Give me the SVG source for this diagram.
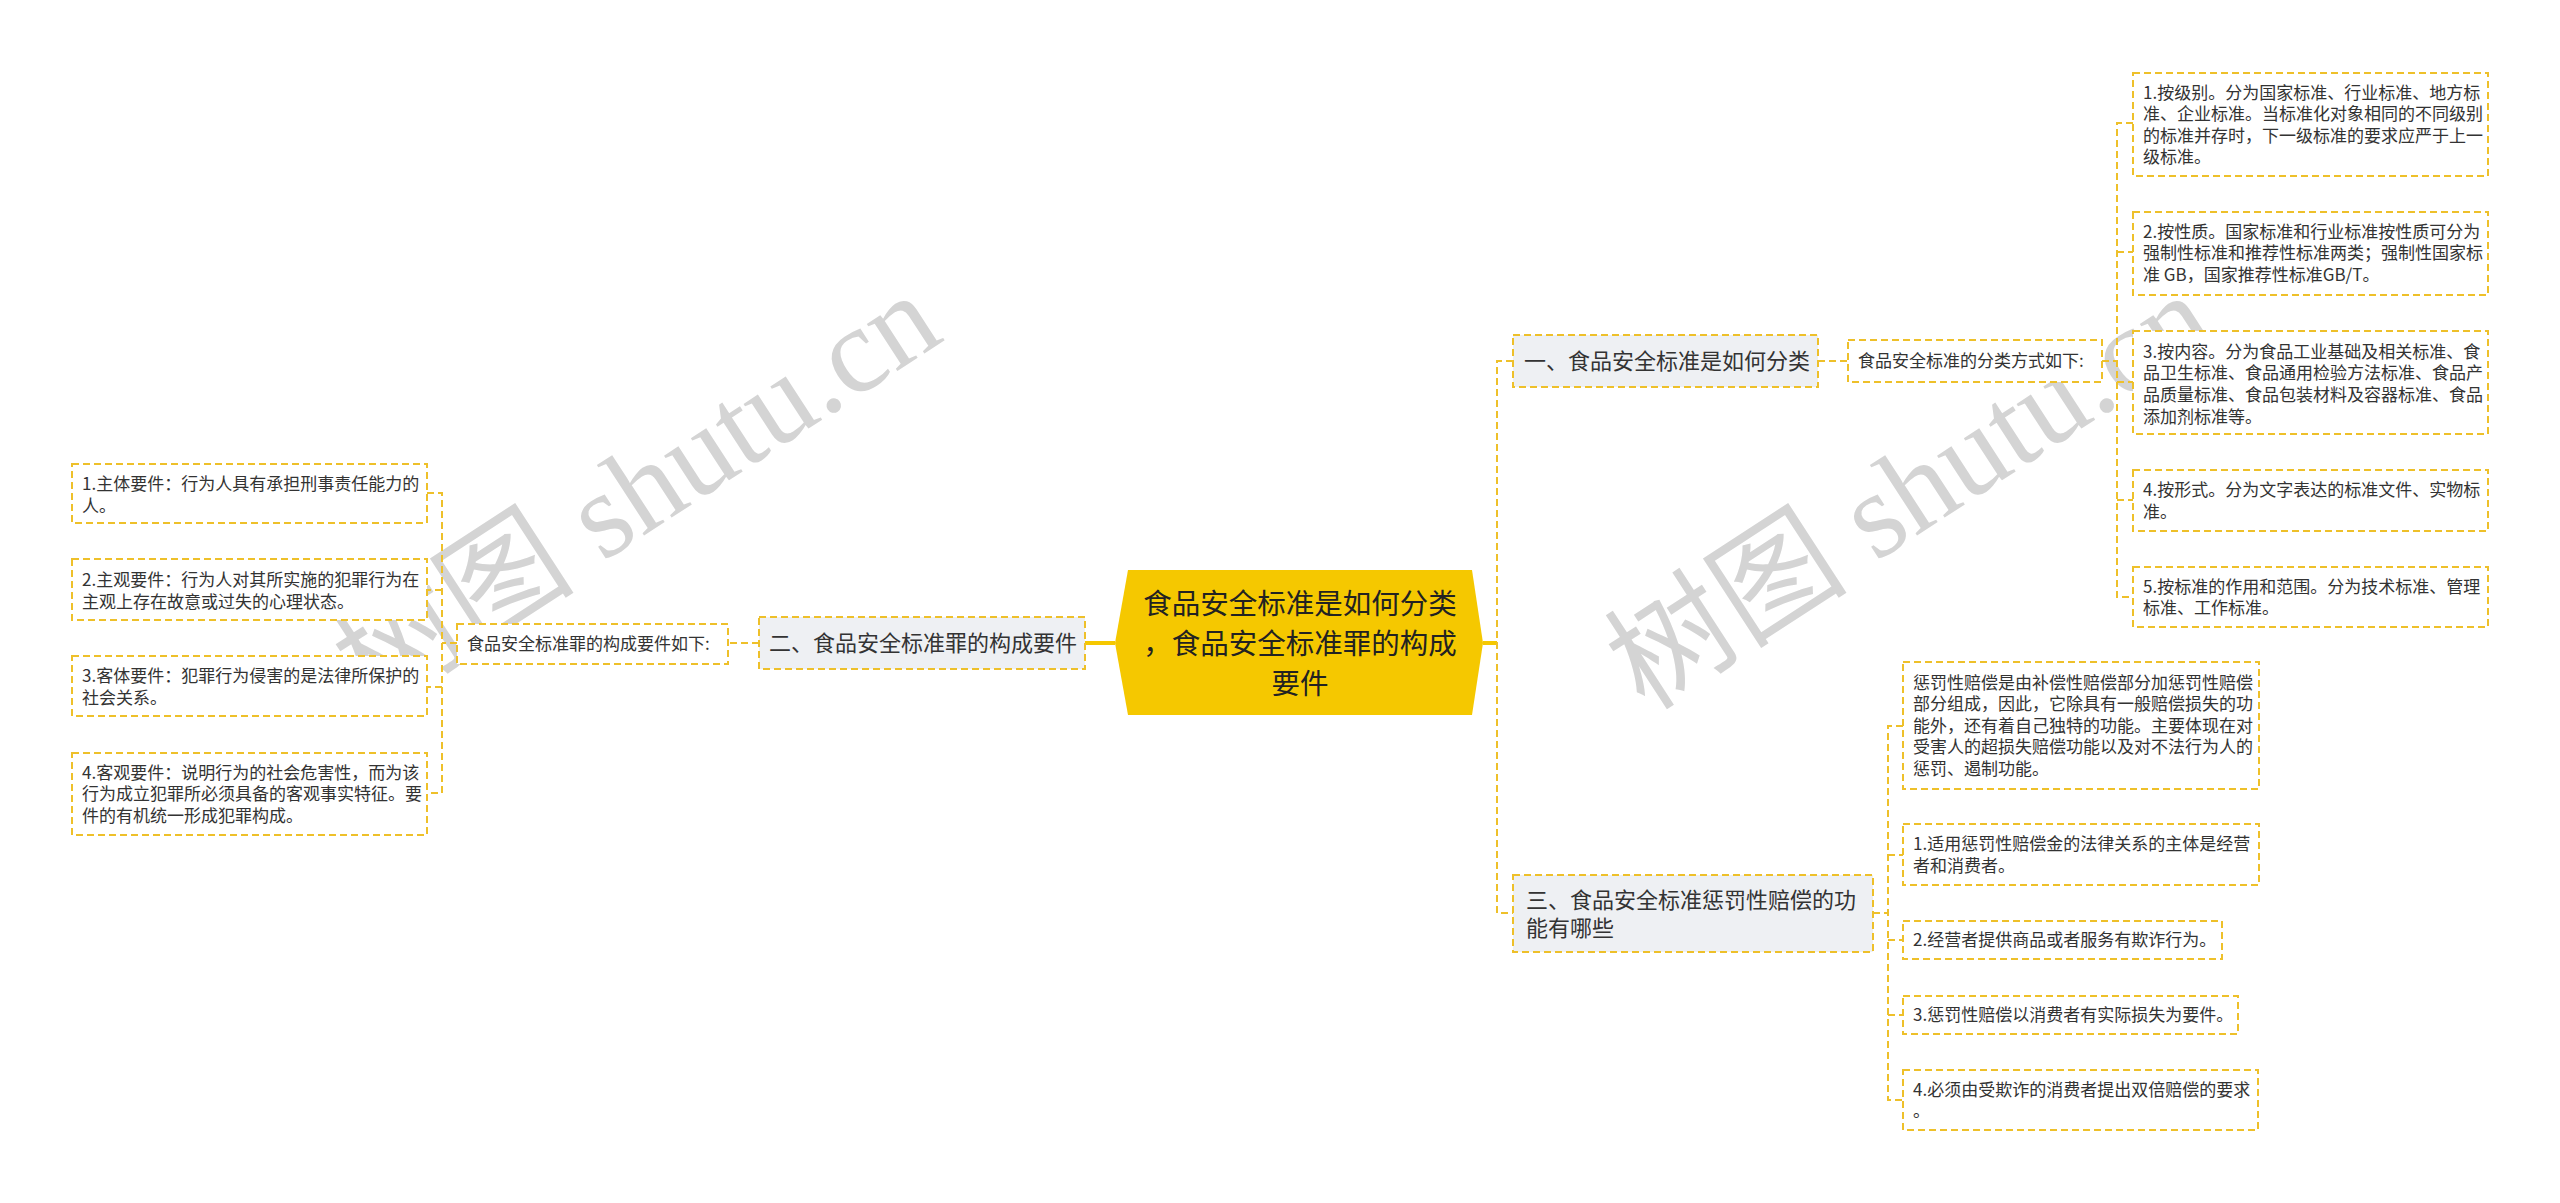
<svg xmlns="http://www.w3.org/2000/svg" width="2560" height="1203" viewBox="0 0 2560 1203">
<style>
.bg{fill:#ffffff}
.wm{font-family:"Liberation Serif","Noto Sans CJK SC",serif;font-size:122px;fill:#d4d4d4}
.box{fill:#ffffff;stroke:#eec02a;stroke-width:2;stroke-dasharray:7 4}
.main{fill:#eef0f3;stroke:#eec02a;stroke-width:2;stroke-dasharray:7 4}
.conn{fill:none;stroke:#eec02a;stroke-width:2;stroke-dasharray:7 4}
.solid{fill:none;stroke:#f5c800;stroke-width:4}
.t17{font-family:"Noto Sans CJK SC",sans-serif;font-size:17px;fill:#333333}
.t22{font-family:"Noto Sans CJK SC",sans-serif;font-size:22px;fill:#333333}
.t29{font-family:"Noto Sans CJK SC",sans-serif;font-size:28.5px;fill:#222222}
</style>
<rect class="bg" x="0" y="0" width="2560" height="1203"/>
<g id="watermarks">
<text class="wm" x="372" y="712" transform="rotate(-33 372 712)">树图 shutu.cn</text>
<text class="wm" x="1645" y="712" transform="rotate(-33 1645 712)">树图 shutu.cn</text>
</g>
<g id="connectors">
<line class="solid" x1="1483" y1="643" x2="1497" y2="643"/>
<line class="solid" x1="1115" y1="643" x2="1085" y2="643"/>
<path class="conn" d="M1513 361 H1497 V913 H1513"/>
<line class="conn" x1="1818" y1="361" x2="1848" y2="361"/>
<line class="conn" x1="2102" y1="361" x2="2117" y2="361"/>
<path class="conn" d="M2133 123 H2117 V597 H2133"/>
<line class="conn" x1="2117" y1="252" x2="2133" y2="252"/>
<line class="conn" x1="2117" y1="382" x2="2133" y2="382"/>
<line class="conn" x1="2117" y1="500" x2="2133" y2="500"/>
<line class="conn" x1="1873" y1="913" x2="1888" y2="913"/>
<path class="conn" d="M1903 726 H1888 V1100 H1903"/>
<line class="conn" x1="1888" y1="855" x2="1903" y2="855"/>
<line class="conn" x1="1888" y1="940" x2="1903" y2="940"/>
<line class="conn" x1="1888" y1="1015" x2="1903" y2="1015"/>
<line class="conn" x1="759" y1="643" x2="728" y2="643"/>
<line class="conn" x1="457" y1="643" x2="442" y2="643"/>
<path class="conn" d="M427 493 H442 V793 H427"/>
<line class="conn" x1="442" y1="590" x2="427" y2="590"/>
<line class="conn" x1="442" y1="687" x2="427" y2="687"/>
</g>
<g id="root">
<polygon points="1128,570 1472,570 1483,643 1472,715 1128,715 1115,643" fill="#f5c800"/>
<text class="t29" x="1300" y="614" text-anchor="middle">食品安全标准是如何分类</text>
<text class="t29" x="1300" y="654" text-anchor="middle">，食品安全标准罪的构成</text>
<text class="t29" x="1300" y="694" text-anchor="middle">要件</text>
</g>
<g id="b1">
<rect class="main" x="1513" y="335" width="305" height="52"/>
<text class="t22" x="1524" y="369">一、食品安全标准是如何分类</text>
</g>
<g id="b1s">
<rect class="box" x="1848" y="340" width="254" height="42"/>
<text class="t17" x="1858" y="367">食品安全标准的分类方式如下:</text>
</g>
<g id="r1">
<rect class="box" x="2133" y="73" width="355" height="103"/>
<text class="t17" x="2143" y="99">1.按级别。分为国家标准、行业标准、地方标</text>
<text class="t17" x="2143" y="120">准、企业标准。当标准化对象相同的不同级别</text>
<text class="t17" x="2143" y="142">的标准并存时，下一级标准的要求应严于上一</text>
<text class="t17" x="2143" y="163">级标准。</text>
</g>
<g id="r2">
<rect class="box" x="2133" y="212" width="355" height="83"/>
<text class="t17" x="2143" y="238">2.按性质。国家标准和行业标准按性质可分为</text>
<text class="t17" x="2143" y="259">强制性标准和推荐性标准两类；强制性国家标</text>
<text class="t17" x="2143" y="281">准 GB，国家推荐性标准GB/T。</text>
</g>
<g id="r3">
<rect class="box" x="2133" y="331" width="355" height="103"/>
<text class="t17" x="2143" y="358">3.按内容。分为食品工业基础及相关标准、食</text>
<text class="t17" x="2143" y="379">品卫生标准、食品通用检验方法标准、食品产</text>
<text class="t17" x="2143" y="401">品质量标准、食品包装材料及容器标准、食品</text>
<text class="t17" x="2143" y="423">添加剂标准等。</text>
</g>
<g id="r4">
<rect class="box" x="2133" y="470" width="355" height="61"/>
<text class="t17" x="2143" y="496">4.按形式。分为文字表达的标准文件、实物标</text>
<text class="t17" x="2143" y="518">准。</text>
</g>
<g id="r5">
<rect class="box" x="2133" y="567" width="355" height="60"/>
<text class="t17" x="2143" y="593">5.按标准的作用和范围。分为技术标准、管理</text>
<text class="t17" x="2143" y="614">标准、工作标准。</text>
</g>
<g id="b3">
<rect class="main" x="1513" y="875" width="360" height="77"/>
<text class="t22" x="1526" y="908">三、食品安全标准惩罚性赔偿的功</text>
<text class="t22" x="1526" y="936">能有哪些</text>
</g>
<g id="p0">
<rect class="box" x="1903" y="662" width="356" height="127"/>
<text class="t17" x="1913" y="689">惩罚性赔偿是由补偿性赔偿部分加惩罚性赔偿</text>
<text class="t17" x="1913" y="710">部分组成，因此，它除具有一般赔偿损失的功</text>
<text class="t17" x="1913" y="732">能外，还有着自己独特的功能。主要体现在对</text>
<text class="t17" x="1913" y="753">受害人的超损失赔偿功能以及对不法行为人的</text>
<text class="t17" x="1913" y="775">惩罚、遏制功能。</text>
</g>
<g id="p1">
<rect class="box" x="1903" y="824" width="356" height="61"/>
<text class="t17" x="1913" y="850">1.适用惩罚性赔偿金的法律关系的主体是经营</text>
<text class="t17" x="1913" y="872">者和消费者。</text>
</g>
<g id="p2">
<rect class="box" x="1903" y="921" width="319" height="38"/>
<text class="t17" x="1913" y="946">2.经营者提供商品或者服务有欺诈行为。</text>
</g>
<g id="p3">
<rect class="box" x="1903" y="996" width="335" height="38"/>
<text class="t17" x="1913" y="1021">3.惩罚性赔偿以消费者有实际损失为要件。</text>
</g>
<g id="p4">
<rect class="box" x="1903" y="1070" width="355" height="60"/>
<text class="t17" x="1913" y="1096">4.必须由受欺诈的消费者提出双倍赔偿的要求</text>
<text class="t17" x="1913" y="1117">。</text>
</g>
<g id="b2">
<rect class="main" x="759" y="617" width="326" height="52"/>
<text class="t22" x="769" y="651">二、食品安全标准罪的构成要件</text>
</g>
<g id="b2s">
<rect class="box" x="457" y="624" width="271" height="40"/>
<text class="t17" x="467" y="650">食品安全标准罪的构成要件如下:</text>
</g>
<g id="l1">
<rect class="box" x="72" y="464" width="355" height="59"/>
<text class="t17" x="82" y="490">1.主体要件：行为人具有承担刑事责任能力的</text>
<text class="t17" x="82" y="512">人。</text>
</g>
<g id="l2">
<rect class="box" x="72" y="559" width="355" height="61"/>
<text class="t17" x="82" y="586">2.主观要件：行为人对其所实施的犯罪行为在</text>
<text class="t17" x="82" y="608">主观上存在故意或过失的心理状态。</text>
</g>
<g id="l3">
<rect class="box" x="72" y="656" width="355" height="60"/>
<text class="t17" x="82" y="682">3.客体要件：犯罪行为侵害的是法律所保护的</text>
<text class="t17" x="82" y="704">社会关系。</text>
</g>
<g id="l4">
<rect class="box" x="72" y="753" width="355" height="82"/>
<text class="t17" x="82" y="779">4.客观要件：说明行为的社会危害性，而为该</text>
<text class="t17" x="82" y="800">行为成立犯罪所必须具备的客观事实特征。要</text>
<text class="t17" x="82" y="822">件的有机统一形成犯罪构成。</text>
</g>
</svg>
